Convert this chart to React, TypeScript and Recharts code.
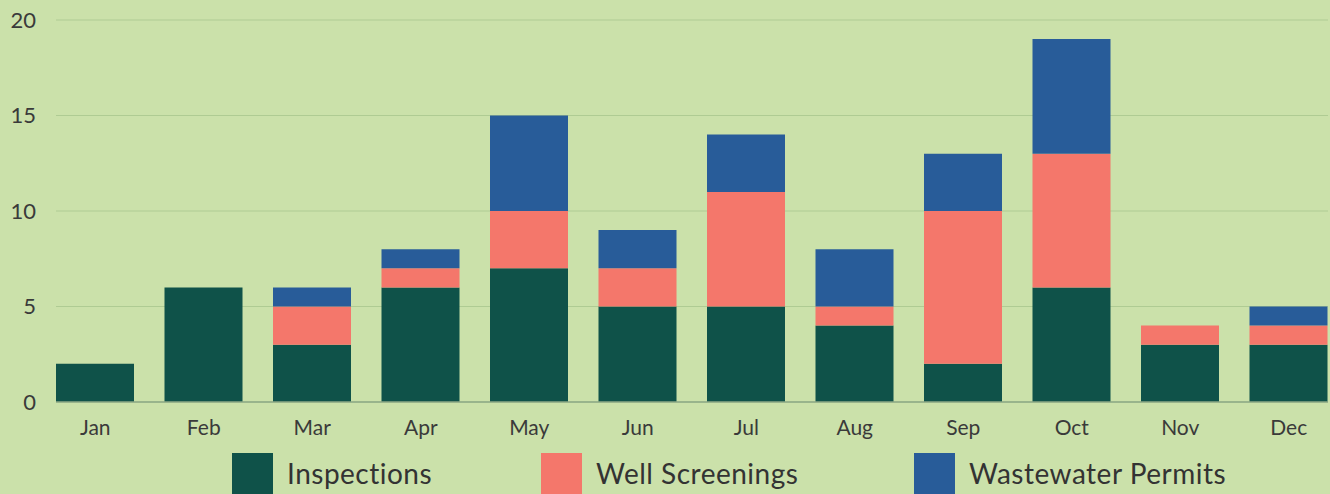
import { BarChart, Bar, XAxis, YAxis, CartesianGrid } from 'recharts';

const months = ['Jan', 'Feb', 'Mar', 'Apr', 'May', 'Jun', 'Jul', 'Aug', 'Sep', 'Oct', 'Nov', 'Dec'];
const inspections = [2, 6, 3, 6, 7, 5, 5, 4, 2, 6, 3, 3];
const wellScreenings = [0, 0, 2, 1, 3, 2, 6, 1, 8, 7, 1, 1];
const wastewaterPermits = [0, 0, 1, 1, 5, 2, 3, 3, 3, 6, 0, 1];
const yTicks = [0, 5, 10, 15, 20];

const series = [
  { key: 'inspections', name: 'Inspections', color: '#0f5249', itemWidth: 309 },
  { key: 'well', name: 'Well Screenings', color: '#f4776b', itemWidth: 373 },
  { key: 'wastewater', name: 'Wastewater Permits', color: '#285c99', itemWidth: 360 },
];

const dados = months.map((m, i) => ({
  mes: m,
  inspections: inspections[i],
  well: wellScreenings[i],
  wastewater: wastewaterPermits[i],
}));

const App = () => {
  return (
    <div style={{ position: 'absolute', left: 0, top: 0, width: 1330, height: 494, overflow: 'hidden', background: '#cbe1aa' }}>
      <BarChart
        width={1330}
        height={520}
        data={dados}
        margin={{ top: 20, right: 2, left: 0, bottom: 88 }}
        style={{ fontFamily: 'Lato, sans-serif' }}
      >
        <CartesianGrid vertical={false} stroke="#afcb93" strokeWidth={1.2} />
        <XAxis
          dataKey="mes"
          height={30}
          padding={{ left: -15, right: -15 }}
          tickLine={false}
          tickSize={0}
          tickMargin={18}
          axisLine={{ stroke: '#8ea886', strokeWidth: 1.5 }}
          tick={{ fill: '#3a3a3a', fontSize: 21 }}
        />
        <YAxis
          width={56}
          domain={[0, 20]}
          ticks={yTicks}
          axisLine={false}
          tickLine={false}
          tickSize={0}
          tickMargin={20}
          tick={{ fill: '#3a3a3a', fontSize: 22 }}
        />
        {series.map(s => (
          <Bar key={s.key} dataKey={s.key} name={s.name} stackId="a" fill={s.color} barSize={78} isAnimationActive={false} />
        ))}
      </BarChart>
      <div style={{ position: 'absolute', top: 453, left: 232, display: 'flex', fontFamily: 'Lato, sans-serif', fontSize: 28, color: '#333' }}>
        {series.map(s => (
          <div key={s.key} style={{ display: 'flex', alignItems: 'flex-start', width: s.itemWidth }}>
            <div style={{ width: 41, height: 45, background: s.color, marginRight: 14 }} />
            <span style={{ lineHeight: '40px', letterSpacing: 0.5 }}>{s.name}</span>
          </div>
        ))}
      </div>
    </div>
  );
};

export default App;
